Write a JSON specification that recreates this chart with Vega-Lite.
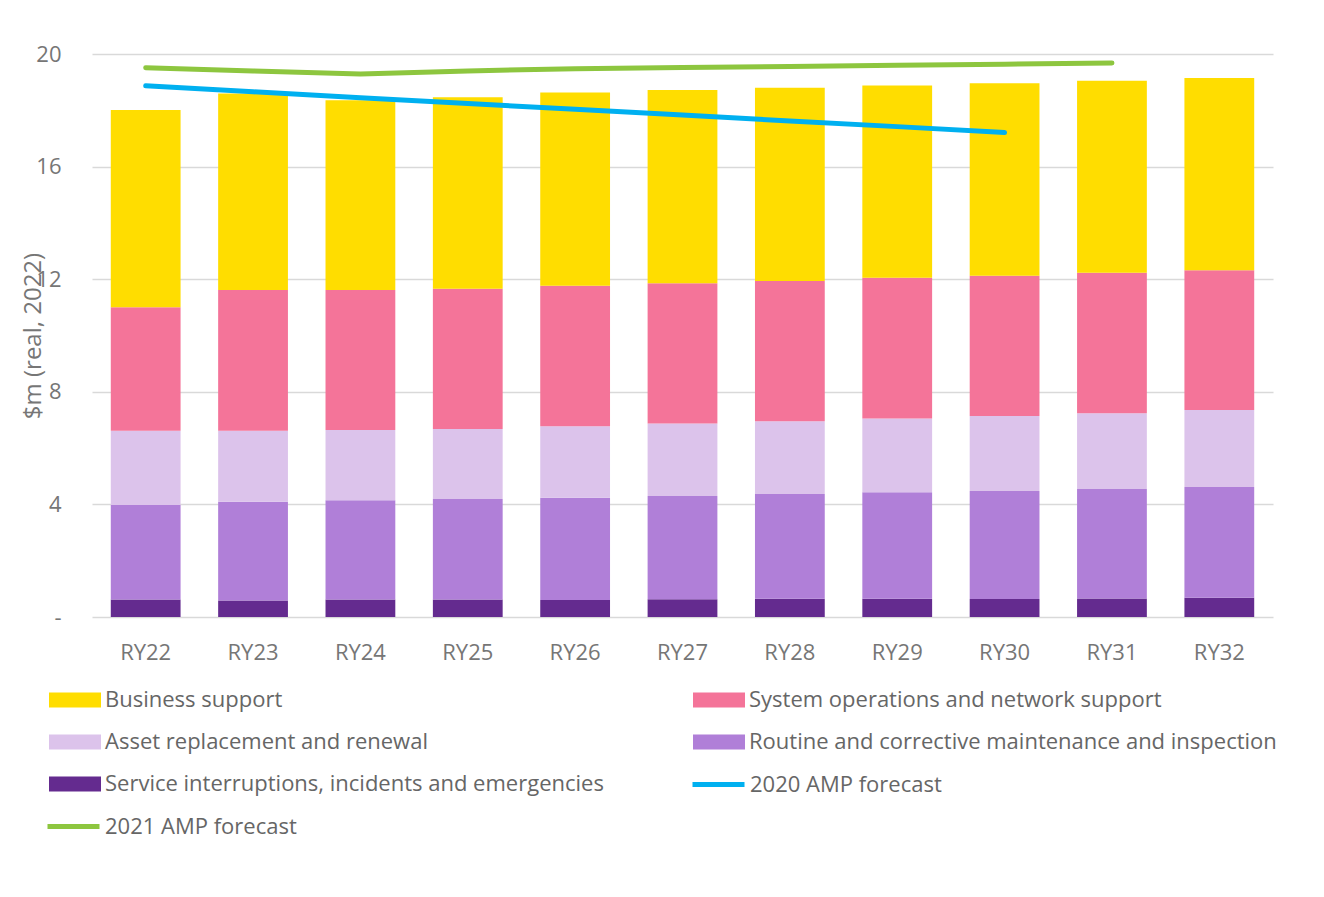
{
  "$schema": "https://vega.github.io/schema/vega-lite/v6.json",
  "autosize": {"type": "none"},
  "width": 1181,
  "height": 563,
  "padding": {"left": 92, "top": 54, "right": 51, "bottom": 280},
  "background": "white",
  "config": {
    "font": "Open Sans",
    "view": {"stroke": null},
    "axis": {"labelFont": "Open Sans", "labelFontSize": 22, "labelColor": "#767676", "titleFont": "Open Sans", "titleFontSize": 24, "titleColor": "#767676", "titleFontWeight": "normal"},
    "legend": {"labelFont": "Open Sans", "labelFontSize": 22, "labelColor": "#666666", "title": null, "padding": 0, "labelLimit": 0, "orient": "none"}
  },
  "datasets": {
    "bars": [
      {"year": "RY22", "series": "Service interruptions, incidents and emergencies", "value": 0.62},
      {"year": "RY22", "series": "Routine and corrective maintenance and inspection", "value": 3.36},
      {"year": "RY22", "series": "Asset replacement and renewal", "value": 2.64},
      {"year": "RY22", "series": "System operations and network support", "value": 4.38},
      {"year": "RY22", "series": "Business support", "value": 7.01},
      {"year": "RY23", "series": "Service interruptions, incidents and emergencies", "value": 0.59},
      {"year": "RY23", "series": "Routine and corrective maintenance and inspection", "value": 3.50},
      {"year": "RY23", "series": "Asset replacement and renewal", "value": 2.53},
      {"year": "RY23", "series": "System operations and network support", "value": 5.00},
      {"year": "RY23", "series": "Business support", "value": 6.98},
      {"year": "RY24", "series": "Service interruptions, incidents and emergencies", "value": 0.62},
      {"year": "RY24", "series": "Routine and corrective maintenance and inspection", "value": 3.53},
      {"year": "RY24", "series": "Asset replacement and renewal", "value": 2.49},
      {"year": "RY24", "series": "System operations and network support", "value": 4.98},
      {"year": "RY24", "series": "Business support", "value": 6.74},
      {"year": "RY25", "series": "Service interruptions, incidents and emergencies", "value": 0.62},
      {"year": "RY25", "series": "Routine and corrective maintenance and inspection", "value": 3.57},
      {"year": "RY25", "series": "Asset replacement and renewal", "value": 2.49},
      {"year": "RY25", "series": "System operations and network support", "value": 4.98},
      {"year": "RY25", "series": "Business support", "value": 6.80},
      {"year": "RY26", "series": "Service interruptions, incidents and emergencies", "value": 0.60},
      {"year": "RY26", "series": "Routine and corrective maintenance and inspection", "value": 3.64},
      {"year": "RY26", "series": "Asset replacement and renewal", "value": 2.54},
      {"year": "RY26", "series": "System operations and network support", "value": 4.99},
      {"year": "RY26", "series": "Business support", "value": 6.86},
      {"year": "RY27", "series": "Service interruptions, incidents and emergencies", "value": 0.63},
      {"year": "RY27", "series": "Routine and corrective maintenance and inspection", "value": 3.67},
      {"year": "RY27", "series": "Asset replacement and renewal", "value": 2.57},
      {"year": "RY27", "series": "System operations and network support", "value": 4.99},
      {"year": "RY27", "series": "Business support", "value": 6.86},
      {"year": "RY28", "series": "Service interruptions, incidents and emergencies", "value": 0.65},
      {"year": "RY28", "series": "Routine and corrective maintenance and inspection", "value": 3.72},
      {"year": "RY28", "series": "Asset replacement and renewal", "value": 2.58},
      {"year": "RY28", "series": "System operations and network support", "value": 4.99},
      {"year": "RY28", "series": "Business support", "value": 6.86},
      {"year": "RY29", "series": "Service interruptions, incidents and emergencies", "value": 0.65},
      {"year": "RY29", "series": "Routine and corrective maintenance and inspection", "value": 3.78},
      {"year": "RY29", "series": "Asset replacement and renewal", "value": 2.62},
      {"year": "RY29", "series": "System operations and network support", "value": 5.00},
      {"year": "RY29", "series": "Business support", "value": 6.83},
      {"year": "RY30", "series": "Service interruptions, incidents and emergencies", "value": 0.64},
      {"year": "RY30", "series": "Routine and corrective maintenance and inspection", "value": 3.84},
      {"year": "RY30", "series": "Asset replacement and renewal", "value": 2.66},
      {"year": "RY30", "series": "System operations and network support", "value": 4.98},
      {"year": "RY30", "series": "Business support", "value": 6.84},
      {"year": "RY31", "series": "Service interruptions, incidents and emergencies", "value": 0.66},
      {"year": "RY31", "series": "Routine and corrective maintenance and inspection", "value": 3.89},
      {"year": "RY31", "series": "Asset replacement and renewal", "value": 2.69},
      {"year": "RY31", "series": "System operations and network support", "value": 4.99},
      {"year": "RY31", "series": "Business support", "value": 6.82},
      {"year": "RY32", "series": "Service interruptions, incidents and emergencies", "value": 0.68},
      {"year": "RY32", "series": "Routine and corrective maintenance and inspection", "value": 3.94},
      {"year": "RY32", "series": "Asset replacement and renewal", "value": 2.73},
      {"year": "RY32", "series": "System operations and network support", "value": 4.97},
      {"year": "RY32", "series": "Business support", "value": 6.83}
    ],
    "amp2020": [
      {"year": "RY22", "series": "2020 AMP forecast", "value": 18.87},
      {"year": "RY23", "series": "2020 AMP forecast", "value": 18.66},
      {"year": "RY24", "series": "2020 AMP forecast", "value": 18.45},
      {"year": "RY25", "series": "2020 AMP forecast", "value": 18.24},
      {"year": "RY26", "series": "2020 AMP forecast", "value": 18.04},
      {"year": "RY27", "series": "2020 AMP forecast", "value": 17.83},
      {"year": "RY28", "series": "2020 AMP forecast", "value": 17.62},
      {"year": "RY29", "series": "2020 AMP forecast", "value": 17.42},
      {"year": "RY30", "series": "2020 AMP forecast", "value": 17.21}
    ],
    "amp2021": [
      {"year": "RY22", "series": "2021 AMP forecast", "value": 19.51},
      {"year": "RY23", "series": "2021 AMP forecast", "value": 19.40},
      {"year": "RY24", "series": "2021 AMP forecast", "value": 19.29},
      {"year": "RY25", "series": "2021 AMP forecast", "value": 19.40},
      {"year": "RY26", "series": "2021 AMP forecast", "value": 19.48},
      {"year": "RY27", "series": "2021 AMP forecast", "value": 19.52},
      {"year": "RY28", "series": "2021 AMP forecast", "value": 19.56},
      {"year": "RY29", "series": "2021 AMP forecast", "value": 19.60},
      {"year": "RY30", "series": "2021 AMP forecast", "value": 19.64},
      {"year": "RY31", "series": "2021 AMP forecast", "value": 19.68}
    ]
  },
  "encoding": {
    "x": {
      "field": "year", "type": "nominal",
      "scale": {"paddingInner": 0.35, "paddingOuter": 0.175},
      "axis": {"title": null, "labelAngle": 0, "domain": false, "ticks": false, "labelPadding": 25}
    },
    "y": {
      "field": "value", "type": "quantitative",
      "scale": {"domain": [0, 20], "nice": false, "zero": true},
      "axis": {
        "title": "$m (real, 2022)",
        "values": [0, 4, 8, 12, 16, 20],
        "labelExpr": "datum.value == 0 ? '-' : datum.label",
        "domain": false, "ticks": false, "labelPadding": 31,
        "gridColor": "#d9d9d9", "gridWidth": 1.5,
        "titleX": -59, "titleY": 281.5, "titleAngle": -90, "titleBaseline": "middle", "titleAlign": "center"
      }
    }
  },
  "resolve": {"scale": {"stroke": "independent"}, "legend": {"stroke": "independent"}},
  "layer": [
    {
      "data": {"name": "bars"},
      "transform": [
        {"calculate": "indexof(['Service interruptions, incidents and emergencies', 'Routine and corrective maintenance and inspection', 'Asset replacement and renewal', 'System operations and network support', 'Business support'], datum.series)", "as": "stackRank"}
      ],
      "mark": {"type": "bar"},
      "encoding": {
        "color": {
          "field": "series", "type": "nominal",
          "scale": {
            "domain": ["Business support", "System operations and network support", "Asset replacement and renewal", "Routine and corrective maintenance and inspection", "Service interruptions, incidents and emergencies"],
            "range": ["#ffdd00", "#f47499", "#dcc3eb", "#b07fd8", "#642b8f"]
          },
          "legend": {
            "legendX": -28, "legendY": 635, "direction": "horizontal",
            "columns": 2, "columnPadding": 89, "rowPadding": 20,
            "symbolSize": 400, "symbolType": "M-2.6,-0.75L2.6,-0.75L2.6,0.75L-2.6,0.75Z", "symbolStrokeWidth": 0, "labelOffset": 19
          }
        },
        "order": {"field": "stackRank", "type": "quantitative"}
      }
    },
    {
      "data": {"name": "amp2020"},
      "mark": {"type": "line", "strokeWidth": 5, "strokeCap": "round", "strokeJoin": "round"},
      "encoding": {
        "stroke": {
          "field": "series", "type": "nominal",
          "scale": {"domain": ["2020 AMP forecast"], "range": ["#00b0f0"]},
          "legend": {
            "legendX": 614, "legendY": 718,
            "symbolSize": 400, "symbolType": "M-2.6,0L2.6,0", "symbolStrokeWidth": 5, "labelOffset": 19
          }
        }
      }
    },
    {
      "data": {"name": "amp2021"},
      "mark": {"type": "line", "strokeWidth": 5, "strokeCap": "round", "strokeJoin": "round"},
      "encoding": {
        "stroke": {
          "field": "series", "type": "nominal",
          "scale": {"domain": ["2021 AMP forecast"], "range": ["#8dc63f"]},
          "legend": {
            "legendX": -31, "legendY": 760,
            "symbolSize": 400, "symbolType": "M-2.6,0L2.6,0", "symbolStrokeWidth": 5, "labelOffset": 19
          }
        }
      }
    }
  ]
}
